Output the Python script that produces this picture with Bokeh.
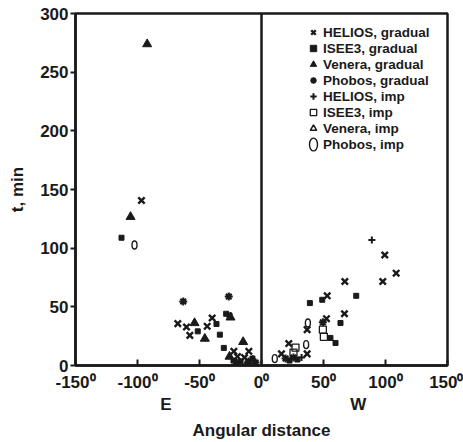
from bokeh.plotting import figure
from bokeh.models import Range1d, FixedTicker, Span, LinearAxis, Legend, LegendItem
from bokeh.embed import file_html
from bokeh.resources import INLINE

# ---- data (angular distance in degrees, t in minutes) ----
x_ticks = [-150, -100, -50, 0, 50, 100, 150]
x_tick_labels = ["-150⁰", "-100⁰", "-50⁰", "0⁰", "50⁰", "100⁰", "150⁰"]
y_ticks = [0, 50, 100, 150, 200, 250, 300]

side_labels = ["E", "W"]
side_label_x = [-77, 78]

helios_grad_x = [-96.8, -67.5, -60.5, -57.8, -43.8, -39.8, -22.3, -10.2, -19.4, -13.7,
                 16.1, 22.0, 36.8, 36.8, 53.0, 52.4, 66.9, 67.2, 99.4, 97.8, 108.6]
helios_grad_t = [140.6, 35.7, 32.8, 25.7, 33.4, 40.5, 12.1, 12.1, 7.6, 6.8,
                 9.9, 18.7, 9.9, 30.6, 59.4, 39.9, 44.1, 71.6, 94.2, 71.6, 78.7]

isee_grad_x = [-112.9, -51.4, -36.3, -33.6, -30.4, -28.5, -25.8, -22.6, -16.9, -7.3,
               39.0, 49.0, 63.7, 76.4, 55.6, 59.7, 22.6, 29.0]
isee_grad_t = [108.9, 29.1, 35.4, 26.3, 15.0, 44.1, 42.7, 4.2, 3.4, 5.9,
               53.2, 56.0, 36.2, 59.4, 23.5, 19.2, 4.2, 5.1]

venera_grad_x = [-92.2, -105.6, -54.0, -45.7, -14.8, -25.0, -25.8, -12.1, -20.2]
venera_grad_t = [273.9, 126.7, 36.2, 22.9, 20.1, 41.0, 7.6, 0.8, 1.7]

phobos_grad_x = [-63.1, -26.4, -10.5, -4.8, 19.4, 25.8, 49.5]
phobos_grad_t = [54.6, 58.8, 3.4, 2.5, 5.9, 6.8, 36.8]

helios_imp_x = [89.0, 32.3]
helios_imp_t = [107.0, 6.8]

isee_imp_x = [27.4, 25.8, 49.5, 50.3]
isee_imp_t = [15.3, 11.0, 30.6, 24.4]

venera_imp_x = [-7.0]
venera_imp_t = [4.0]

phobos_imp_x = [-102.4, 10.7, 36.0, 37.4]
phobos_imp_t = [102.7, 5.9, 17.8, 36.2]

FONT = "Liberation Sans"
INK = "#1a1a1a"

p = figure(width=463, height=442, x_range=Range1d(-150, 150), y_range=Range1d(0, 300),
           output_backend="svg", toolbar_location=None,
           min_border_left=75, min_border_right=16, min_border_top=13, min_border_bottom=76)

p.xgrid.visible = False
p.ygrid.visible = False
p.outline_line_color = INK
p.outline_line_width = 2.5
p.background_fill_color = "white"
p.border_fill_color = "white"

# second, lower x axis carrying the E / W labels and the axis title
side_axis = LinearAxis(ticker=FixedTicker(ticks=side_label_x),
                       major_label_overrides={v: s for v, s in zip(side_label_x, side_labels)})
p.add_layout(side_axis, "below")

def style_axis(ax):
    ax.major_tick_line_color = INK
    ax.major_tick_line_width = 2
    ax.minor_tick_line_color = None
    ax.major_label_text_font = FONT
    ax.major_label_text_font_style = "bold"
    ax.major_label_text_font_size = "17px"
    ax.major_label_text_color = INK
    ax.axis_label_text_font = FONT
    ax.axis_label_text_font_style = "bold"
    ax.axis_label_text_font_size = "17px"
    ax.axis_label_text_color = INK

main_x = p.xaxis[0]
for ax in (main_x, p.yaxis[0], side_axis):
    style_axis(ax)

main_x.axis_line_width = 2.5
main_x.axis_line_color = INK
main_x.ticker = FixedTicker(ticks=x_ticks)
main_x.major_label_overrides = {t: l for t, l in zip(x_ticks, x_tick_labels)}
main_x.major_tick_in = 6
main_x.major_tick_out = 0
main_x.major_label_standoff = 7

side_axis.axis_line_color = None
side_axis.major_tick_line_color = None
side_axis.major_tick_in = 0
side_axis.major_tick_out = 0
side_axis.major_label_standoff = 0
side_axis.axis_label = "Angular distance"
side_axis.axis_label_standoff = 4

p.yaxis.axis_line_width = 2.5
p.yaxis.axis_line_color = INK
p.yaxis.ticker = FixedTicker(ticks=y_ticks)
p.yaxis.major_tick_in = 0
p.yaxis.major_tick_out = 5
p.yaxis.major_label_standoff = 2
p.yaxis.axis_label = "t, min"
p.yaxis.axis_label_standoff = 10

p.add_layout(Span(location=0, dimension="height", line_color=INK, line_width=2.5))

r1 = p.scatter(helios_grad_x, helios_grad_t, marker="x", size=9, line_color=INK, line_width=2.4)
r2 = p.scatter(isee_grad_x, isee_grad_t, marker="square", size=5, fill_color=INK, line_color=INK)
r3 = p.scatter(venera_grad_x, venera_grad_t, marker="triangle", size=9, fill_color=INK, line_color=INK)
r4 = p.scatter(phobos_grad_x, phobos_grad_t, marker="asterisk", size=8, line_color=INK, line_width=2)
r5 = p.scatter(helios_imp_x, helios_imp_t, marker="cross", size=7, line_color=INK, line_width=2)
r6 = p.scatter(isee_imp_x, isee_imp_t, marker="square", size=7, fill_color=None, line_color=INK, line_width=1.3)
r7 = p.scatter(venera_imp_x, venera_imp_t, marker="triangle", size=9, fill_color=None, line_color=INK, line_width=1.5)
r8 = p.ellipse(phobos_imp_x, phobos_imp_t, width=5, height=8, width_units="screen", height_units="screen",
               fill_color=None, line_color=INK, line_width=1.4)

legend = Legend(items=[
    LegendItem(label="HELIOS, gradual", renderers=[r1]),
    LegendItem(label="ISEE3, gradual", renderers=[r2]),
    LegendItem(label="Venera, gradual", renderers=[r3]),
    LegendItem(label="Phobos, gradual", renderers=[r4]),
    LegendItem(label="HELIOS, imp", renderers=[r5]),
    LegendItem(label="ISEE3, imp", renderers=[r6]),
    LegendItem(label="Venera, imp", renderers=[r7]),
    LegendItem(label="Phobos, imp", renderers=[r8]),
], location=(230, 213))
legend.label_text_font = FONT
legend.label_text_font_style = "bold"
legend.label_text_font_size = "13.5px"
legend.label_text_color = INK
legend.glyph_width = 16
legend.glyph_height = 16
legend.label_height = 16
legend.spacing = 0
legend.padding = 0
legend.margin = 0
legend.label_standoff = 2
legend.border_line_color = None
legend.background_fill_alpha = 0
p.add_layout(legend)

open("out.html", "w").write(file_html(p, INLINE))
